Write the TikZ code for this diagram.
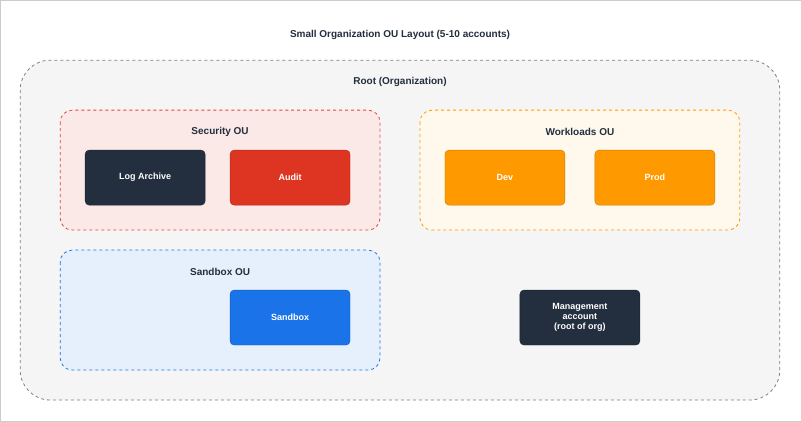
\documentclass[tikz,border=0pt]{standalone}
\usepackage{fontspec}
\setmainfont{Liberation Sans}
\usetikzlibrary{positioning}
\definecolor{ink}{HTML}{232F3E}
\definecolor{auditred}{HTML}{DD3522}
\definecolor{orng}{HTML}{FF9900}
\definecolor{sbblue}{HTML}{1A73E8}
\tikzset{
  ou/.style={draw, dashed, rounded corners=12pt, line width=0.8pt},
  acct/.style={draw=#1!80!black, fill=#1, rounded corners=4pt, minimum width=120pt,
    minimum height=55pt, text=white, font=\fontsize{9}{10}\selectfont\bfseries, align=center},
  lbl/.style={font=\fontsize{10}{12}\selectfont\bfseries, text=ink}
}
\begin{document}
\begin{tikzpicture}[x=1pt,y=-1pt]

    % frame and root
    \draw[gray!40, fill=white] (0,0) rectangle (801,421);
    \node[lbl] (title) at (400,35) {Small Organization OU Layout (5-10 accounts)};
    \draw[ou, gray, fill=gray!8, rounded corners=30pt] (20,60) rectangle (780,400);
    \node[lbl] (root) at (400,82) {Root (Organization)};

    % Security OU
    \draw[ou, auditred!90, fill=auditred!11] (60,110) rectangle (380,230);
    \node[lbl] (secou) at (220,132) {Security OU};
    \node[acct=ink] (logarchive) at (145,177.5) {Log Archive};
    \node[acct=auditred] (audit) at (290,177.5) {Audit};

    % Workloads OU
    \draw[ou, orng, fill=orng!7] (420,110) rectangle (740,230);
    \node[lbl] (workou) at (580,132) {Workloads OU};
    \node[acct=orng] (dev) at (505,177.5) {Dev};
    \node[acct=orng] (prod) at (655,177.5) {Prod};

    % Sandbox OU
    \draw[ou, sbblue, fill=sbblue!11] (60,250) rectangle (380,370);
    \node[lbl] (sbou) at (220,272) {Sandbox OU};
    \node[acct=sbblue] (sandbox) at (290,317.5) {Sandbox};

    % management account
    \node[acct=ink] (mgmt) at (580,317.5) {Management\\account\\(root of org)};

\end{tikzpicture}
\end{document}
